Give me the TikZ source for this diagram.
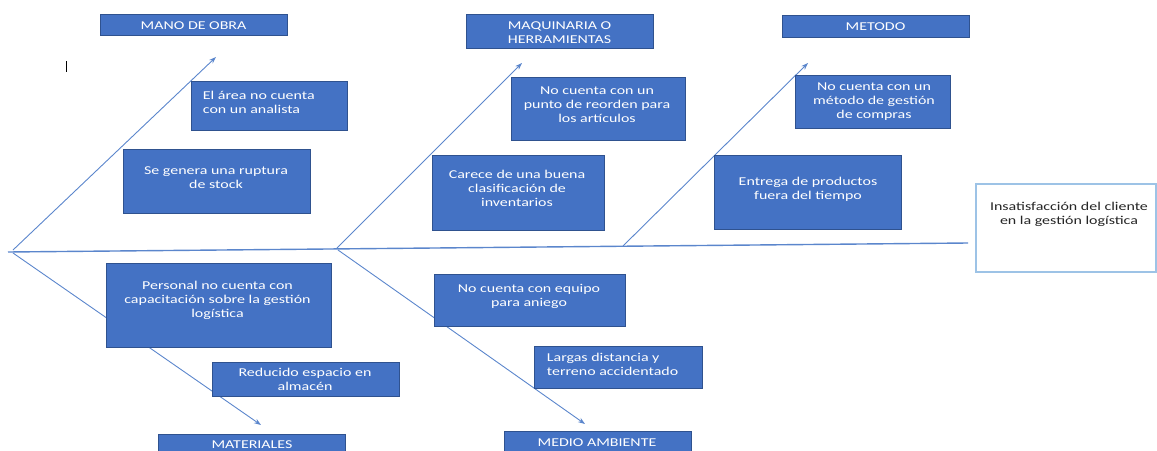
\documentclass[tikz,border=0pt]{standalone}
\usepackage{fontspec}
\setmainfont{Carlito}[FakeStretch=1.33]
\usetikzlibrary{arrows.meta}
\definecolor{boxfill}{HTML}{4472C4}
\definecolor{boxedge}{HTML}{2F528F}
\definecolor{linec}{HTML}{5B86CC}
\definecolor{insedge}{HTML}{9DC3E6}
\newcommand{\tstr}{\rule{0pt}{10pt}}
\tikzset{
  boxst/.style={draw=boxedge, fill=boxfill, line width=0.8pt, inner sep=0pt},
  insbox/.style={draw=insedge, fill=white, line width=1.4pt, inner sep=0pt},
  txt/.style={anchor=north, inner sep=0pt, align=center, text=white, font=\fontsize{12}{14}\selectfont},
  txtl/.style={anchor=north west, inner sep=0pt, align=left, text=white, font=\fontsize{12}{14}\selectfont},
  branch/.style={draw=linec, line width=0.9pt, -{Stealth[length=7pt,width=5pt]}},
  spine/.style={draw=linec, line width=1.4pt},
}
\begin{document}
\begin{tikzpicture}[x=1pt,y=-1pt]
\useasboundingbox (0,0) rectangle (1157,450);
% spine and branches
\coordinate (sL) at (8,252);
\coordinate (sR) at (968,243);
\coordinate (u1) at (13,250);
\coordinate (u2) at (337,248);
\coordinate (u3) at (623,246);
\coordinate (d1) at (13,253);
\coordinate (d2) at (338,250);
\coordinate (t1) at (216,57);
\coordinate (t2) at (522,63);
\coordinate (t3) at (808,63);
\coordinate (t4) at (261,425);
\coordinate (t5) at (585,424);
\draw[spine] (sL) -- (sR);
\draw[branch] (u1) -- (t1);
\draw[branch] (u2) -- (t2);
\draw[branch] (u3) -- (t3);
\draw[branch] (d1) -- (t4);
\draw[branch] (d2) -- (t5);
% cursor mark
\coordinate (cA) at (66,61);
\coordinate (cB) at (66,72);
\draw[line width=0.9pt] (cA) -- (cB);
% boxes
\node[boxst, minimum width=187pt, minimum height=21pt] (mano) at (193.5,24.5) {};
\node[boxst, minimum width=187pt, minimum height=34pt] (maq) at (559.5,31) {};
\node[boxst, minimum width=187pt, minimum height=22pt] (met) at (875.5,26) {};
\node[boxst, minimum width=156pt, minimum height=49pt] (area) at (269,105.5) {};
\node[boxst, minimum width=187pt, minimum height=64pt] (sege) at (216.5,181) {};
\node[boxst, minimum width=174pt, minimum height=63pt] (punto) at (598,108.5) {};
\node[boxst, minimum width=172pt, minimum height=75pt] (carece) at (518,192.5) {};
\node[boxst, minimum width=155pt, minimum height=53pt] (metodo) at (872.5,101.5) {};
\node[boxst, minimum width=187pt, minimum height=74pt] (entrega) at (807.5,192) {};
\node[insbox, minimum width=180pt, minimum height=88pt] (insat) at (1066,228) {};
\node[boxst, minimum width=225pt, minimum height=84pt] (personal) at (218.5,305) {};
\node[boxst, minimum width=187pt, minimum height=34pt] (reducido) at (305.5,379) {};
\node[boxst, minimum width=187pt, minimum height=32pt] (materiales) at (251.5,450) {};
\node[boxst, minimum width=191pt, minimum height=52pt] (equipo) at (529.5,300) {};
\node[boxst, minimum width=168pt, minimum height=42pt] (largas) at (618,367) {};
\node[boxst, minimum width=187pt, minimum height=34pt] (medio) at (597.5,448) {};
% texts
\node[txt] (manoT) at (193.5,19.7) {\tstr MANO DE OBRA};
\node[txt] (maqT) at (559.5,19.7) {\tstr MAQUINARIA O\\HERRAMIENTAS};
\node[txt] (metT) at (875.5,20.7) {\tstr METODO};
\node[txtl] (areaT) at (202.7,89.7) {\tstr El área no cuenta\\con un analista};
\node[txt] (segeT) at (216,164.4) {\tstr Se genera una ruptura\\de stock};
\node[txt] (puntoT) at (597,84.4) {\tstr No cuenta con un\\punto de reorden para\\los artículos};
\node[txt] (careceT) at (517,168.4) {\tstr Carece de una buena\\clasificación de\\inventarios};
\node[txt] (metodoT) at (874,80.4) {\tstr No cuenta con un\\método de gestión\\de compras};
\node[txt] (entregaT) at (808,175.7) {\tstr Entrega de productos\\fuera del tiempo};
\node[txt, text=black!85] (insatT) at (1069,200.4) {\tstr Insatisfacción del cliente\\en la gestión logística};
\node[txt] (personalT) at (217.5,279.4) {\tstr Personal no cuenta con\\capacitación sobre la gestión\\logística};
\node[txt] (reducidoT) at (305,366) {\tstr Reducido espacio en\\almacén};
\node[txt] (materialesT) at (252,438.7) {\tstr MATERIALES};
\node[txt] (equipoT) at (529,282.7) {\tstr No cuenta con equipo\\para aniego};
\node[txtl] (largasT) at (546.7,351) {\tstr Largas distancia y\\terreno accidentado};
\node[txt] (medioT) at (597,436) {\tstr MEDIO AMBIENTE};
\end{tikzpicture}
\end{document}
